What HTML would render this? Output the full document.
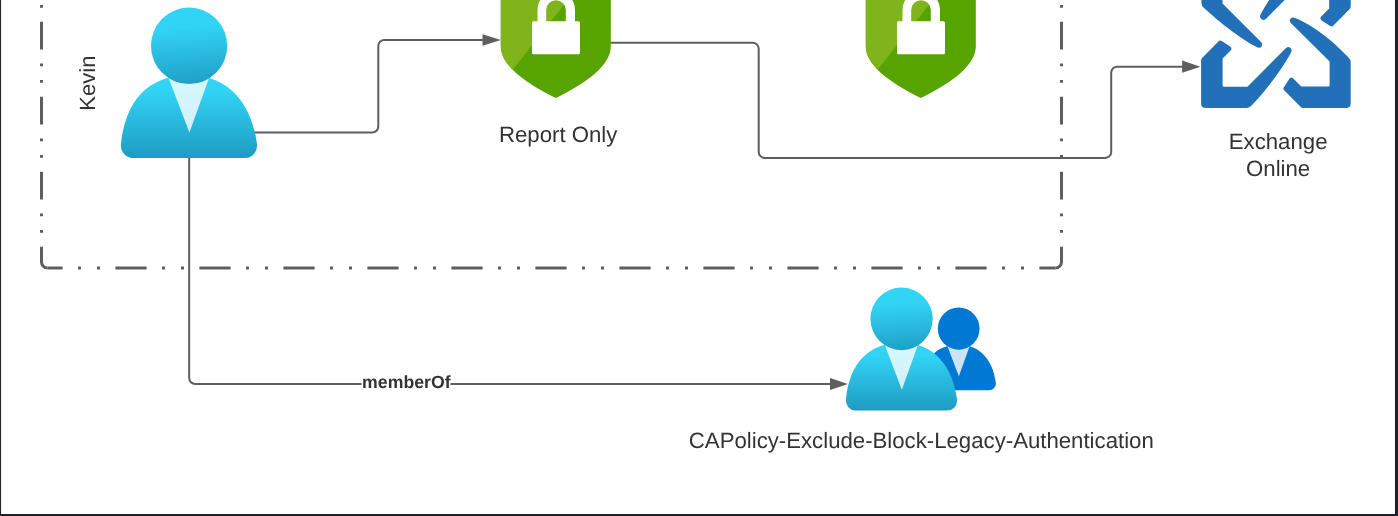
<!DOCTYPE html>
<html>
<head>
<meta charset="utf-8">
<style>
html,body{margin:0;padding:0;background:#ffffff;}
body{width:1398px;height:516px;overflow:hidden;position:relative;}
svg{position:absolute;left:0;top:0;display:block;will-change:transform;}
text{font-family:"Liberation Sans",sans-serif;fill:#333333;text-rendering:geometricPrecision;}
</style>
</head>
<body>
<svg width="1398" height="516" viewBox="0 0 1398 516">
<defs>
  <linearGradient id="ub" x1="9" y1="6.88" x2="9" y2="20.45" gradientUnits="userSpaceOnUse">
    <stop offset="0.22" stop-color="#32d4f5"/><stop offset="1" stop-color="#198ab3"/>
  </linearGradient>
  <linearGradient id="uh" x1="8.61" y1="-0.4" x2="9.6" y2="11.92" gradientUnits="userSpaceOnUse">
    <stop offset="0.22" stop-color="#32d4f5"/><stop offset="1" stop-color="#198ab3"/>
  </linearGradient>
  <clipPath id="shclip">
    <path d="M500.8,-10 L500.8,46.4 C500.8,65.1 525.2,83 555.8,98 C586.4,83 610.8,65.1 610.8,46.4 L610.8,-10Z"/>
  </clipPath>
</defs>

<!-- outer frame -->
<rect x="0" y="0" width="1.08" height="516" fill="#25272e"/>
<rect x="1395" y="0" width="3" height="516" fill="#1e2029"/>
<rect x="0" y="514" width="1398" height="2" fill="#1e2029"/>

<!-- dashed container -->
<g stroke="#5e5e5e" stroke-width="3" fill="none">
  <line x1="47.5" y1="268" x2="1055.5" y2="268" stroke-dasharray="31.2 15.4 3 16 3 15.4" stroke-dashoffset="16.1"/>
  <line x1="41.5" y1="-100" x2="41.5" y2="262" stroke-dasharray="27.75 14 2.75 13.75 2.75 14" stroke-dashoffset="28.25"/>
  <line x1="1061.5" y1="-100" x2="1061.5" y2="262" stroke-dasharray="27.75 14 2.75 13.75 2.75 14" stroke-dashoffset="28.25"/>
  <path d="M41.5,262 A6,6 0 0 0 47.5,268"/>
  <path d="M1055.5,268 A6,6 0 0 0 1061.5,262"/>
</g>

<!-- Kevin label -->
<text transform="translate(95.1,83.15) rotate(-90)" text-anchor="middle" font-size="22">Kevin</text>

<!-- connectors -->
<g stroke="#5e5e5e" stroke-width="2" fill="none">
  <path d="M240,132.5 L372.3,132.5 A6,6 0 0 0 378.3,126.5 L378.3,46 A6,6 0 0 1 384.3,40 L483,40"/>
  <path d="M600,42.7 L752.7,42.7 A6,6 0 0 1 758.7,48.7 L758.7,151.9 A6,6 0 0 0 764.7,157.9 L1105.2,157.9 A6,6 0 0 0 1111.2,151.9 L1111.2,72.7 A6,6 0 0 1 1117.2,66.7 L1183,66.7"/>
  <path d="M189.2,150 L189.2,378 A6,6 0 0 0 195.2,384 L831,384"/>
</g>
<g fill="#5e5e5e">
  <polygon points="482.5,34.2 500.8,40 482.5,45.8"/>
  <polygon points="1182.1,60.5 1200.4,66.7 1182.1,72.8"/>
  <polygon points="830,377.9 847.9,384 830,390"/>
</g>

<!-- memberOf label -->
<rect x="361.6" y="374" width="88.8" height="16" fill="#fff"/>
<text x="406.35" y="388" text-anchor="middle" font-size="17.7" font-weight="bold">memberOf</text>

<!-- user icon -->
<g transform="translate(114,7.5) scale(8.333,8.36)">
    <path d="M15.72,18a1.45,1.45,0,0,0,1.45-1.45.47.47,0,0,0,0-.17C16.59,11.81,14,8.09,9,8.09s-7.66,3.15-8.17,8.3A1.46,1.46,0,0,0,2.14,18H15.72Z" fill="url(#ub)"/>
    <path d="M6.5,8.3 L9.05,14.94 L11.45,8.3Z" fill="#fff" opacity="0.8"/>
    <circle cx="9.01" cy="4.58" r="4.58" fill="url(#uh)"/>
  </g>

<!-- shields -->
<g>
    <path d="M500.8,-10 L500.8,46.4 C500.8,65.1 525.2,83 555.8,98 C586.4,83 610.8,65.1 610.8,46.4 L610.8,-10Z" fill="#57a300"/>
    <polygon points="490,-10 575.8,-10 490,98.1" fill="#7fb51b" clip-path="url(#shclip)"/>
    <path d="M537.5,25 L537.5,10 A18.75,18.75 0 0 1 575,10 L575,25 L565.8,25 L565.8,10 A9.8,9.8 0 0 0 546.2,10 L546.2,25Z" fill="#fff"/>
    <rect x="532" y="21.3" width="48" height="33" rx="1.5" fill="#fff"/>
  </g>
<g transform="translate(365,0)">
    <path d="M500.8,-10 L500.8,46.4 C500.8,65.1 525.2,83 555.8,98 C586.4,83 610.8,65.1 610.8,46.4 L610.8,-10Z" fill="#57a300"/>
    <polygon points="490,-10 575.8,-10 490,98.1" fill="#7fb51b" clip-path="url(#shclip)"/>
    <path d="M537.5,25 L537.5,10 A18.75,18.75 0 0 1 575,10 L575,25 L565.8,25 L565.8,10 A9.8,9.8 0 0 0 546.2,10 L546.2,25Z" fill="#fff"/>
    <rect x="532" y="21.3" width="48" height="33" rx="1.5" fill="#fff"/>
  </g>

<text x="558.15" y="142.3" text-anchor="middle" font-size="22.2">Report Only</text>

<!-- Exchange -->
<path d="M1201.1,104 L1201.1,60.5 Q1201.1,58.9 1202.3,57.7 L1218.9,41.1 Q1220.1,39.9 1221.6,40.9 L1230.2,46.6 Q1232.5,48.4 1230.6,50.5 L1222.6,58.5 L1222.6,85.3 Q1222.6,86.8 1224.1,86.8 L1247.4,86.8 L1286.0,48.0 Q1289.0,45.6 1291.2,48.8 Q1292,50.8 1291.1,52.3 C1285.5,63.5 1271.5,84 1251.9,105.3 Q1249.6,107.9 1246.5,107.9 L1206,107.9 Q1201.1,107.9 1201.1,104Z" fill="#2170b8"/>
<path d="M1201.1,104 L1201.1,60.5 Q1201.1,58.9 1202.3,57.7 L1218.9,41.1 Q1220.1,39.9 1221.6,40.9 L1230.2,46.6 Q1232.5,48.4 1230.6,50.5 L1222.6,58.5 L1222.6,85.3 Q1222.6,86.8 1224.1,86.8 L1247.4,86.8 L1286.0,48.0 Q1289.0,45.6 1291.2,48.8 Q1292,50.8 1291.1,52.3 C1285.5,63.5 1271.5,84 1251.9,105.3 Q1249.6,107.9 1246.5,107.9 L1206,107.9 Q1201.1,107.9 1201.1,104Z" fill="#2170b8" transform="translate(0.3,-1) rotate(90 1275.9 33.1)"/>
<path d="M1201.1,104 L1201.1,60.5 Q1201.1,58.9 1202.3,57.7 L1218.9,41.1 Q1220.1,39.9 1221.6,40.9 L1230.2,46.6 Q1232.5,48.4 1230.6,50.5 L1222.6,58.5 L1222.6,85.3 Q1222.6,86.8 1224.1,86.8 L1247.4,86.8 L1286.0,48.0 Q1289.0,45.6 1291.2,48.8 Q1292.2,50.4 1291.5,52 C1286.5,62 1272.5,84 1251.9,105.3 Q1249.6,107.9 1246.5,107.9 L1206,107.9 Q1201.1,107.9 1201.1,104Z" fill="#2170b8" transform="translate(0,0.8) rotate(180 1275.9 33.1)"/>
<path d="M1201.1,104 L1201.1,60.5 Q1201.1,58.9 1202.3,57.7 L1218.9,41.1 Q1220.1,39.9 1221.6,40.9 L1230.2,46.6 Q1232.5,48.4 1230.6,50.5 L1222.6,58.5 L1222.6,85.3 Q1222.6,86.8 1224.1,86.8 L1247.4,86.8 L1286.0,48.0 Q1289.0,45.6 1291.2,48.8 Q1292,50.8 1291.1,52.3 C1286.6,64.2 1273.5,85.5 1251.9,105.3 Q1249.6,107.9 1246.5,107.9 L1206,107.9 Q1201.1,107.9 1201.1,104Z" fill="#2170b8" transform="rotate(270 1275.9 33.1)"/>
<text x="1278.15" y="148.8" text-anchor="middle" font-size="22.2">Exchange</text>
<text x="1278.15" y="176" text-anchor="middle" font-size="22.2">Online</text>

<!-- group icon -->
<g transform="translate(917.6,307.5) scale(4.56,4.6)">
    <path d="M15.72,18a1.45,1.45,0,0,0,1.45-1.45.47.47,0,0,0,0-.17C16.59,11.81,14,8.09,9,8.09s-7.66,3.15-8.17,8.3A1.46,1.46,0,0,0,2.14,18H15.72Z" fill="#0078d4"/>
    <path d="M6.5,8.3 L9.05,14.94 L11.45,8.3Z" fill="#fff" opacity="0.8"/>
    <circle cx="9.01" cy="4.58" r="4.58" fill="#0078d4"/>
  </g>
<g transform="translate(840.3,287.5) scale(6.8,6.84)">
    <path d="M15.72,18a1.45,1.45,0,0,0,1.45-1.45.47.47,0,0,0,0-.17C16.59,11.81,14,8.09,9,8.09s-7.66,3.15-8.17,8.3A1.46,1.46,0,0,0,2.14,18H15.72Z" fill="url(#ub)"/>
    <path d="M6.5,8.3 L9.05,14.94 L11.45,8.3Z" fill="#fff" opacity="0.8"/>
    <circle cx="9.01" cy="4.58" r="4.58" fill="url(#uh)"/>
  </g>

<text x="921.3" y="448.2" text-anchor="middle" font-size="22.2">CAPolicy-Exclude-Block-Legacy-Authentication</text>
</svg>
</body>
</html>
